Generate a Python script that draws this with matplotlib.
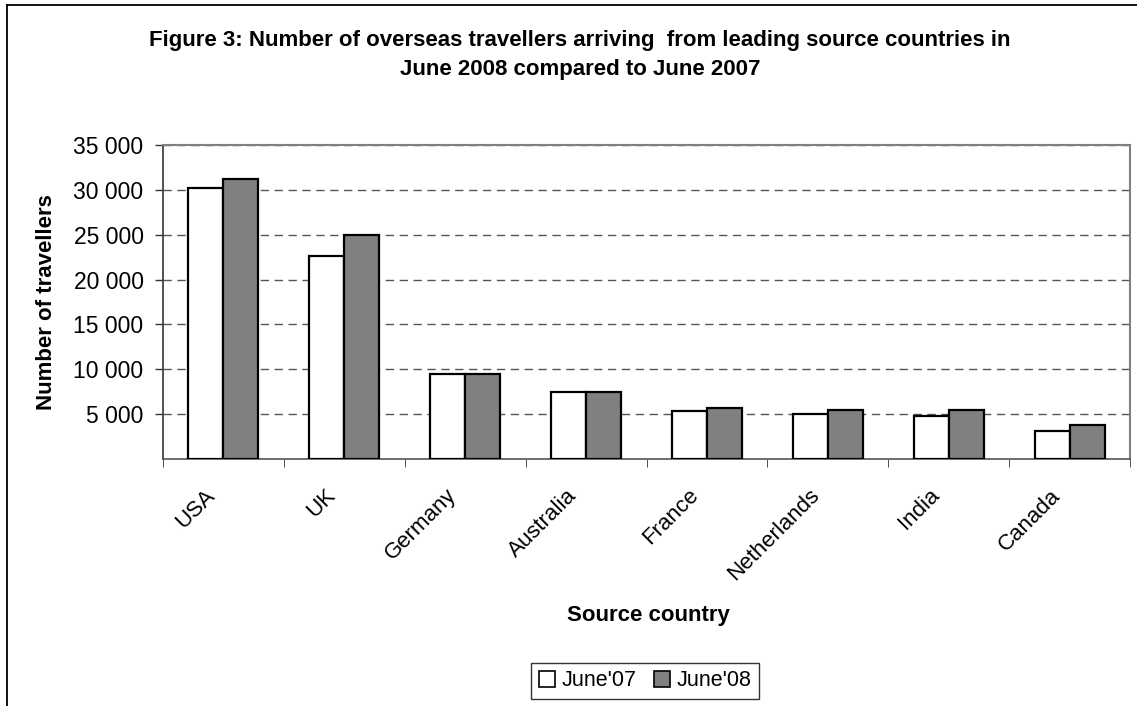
import numpy as np
import matplotlib.pyplot as plt
import matplotlib.transforms as mtrans
from matplotlib.patches import Patch
from matplotlib.lines import Line2D

# travellers by source country
countries = ['USA', 'UK', 'Germany', 'Australia', 'France', 'Netherlands', 'India', 'Canada']
june07 = [30200, 22600, 9450, 7500, 5400, 5050, 4800, 3150]
june08 = [31250, 24950, 9450, 7500, 5700, 5450, 5450, 3800]
yticks = [5000, 10000, 15000, 20000, 25000, 30000, 35000]
ytick_labels = ['5 000', '10 000', '15 000', '20 000', '25 000', '30 000', '35 000']

plt.rcParams['font.family'] = ['Liberation Sans', 'DejaVu Sans']

W, H = 1137, 706
fig = plt.figure(figsize=(W / 100, H / 100), dpi=100)
ax = fig.add_axes([163 / W, 1 - 459 / H, (1130 - 163) / W, (459 - 145) / H])

x = np.arange(len(countries))
w = 0.29
ax.bar(x - w / 2, june07, w, color='white', edgecolor='black', linewidth=1.6, zorder=3, label="June'07")
ax.bar(x + w / 2, june08, w, color='#808080', edgecolor='black', linewidth=1.6, zorder=3, label="June'08")

ax.set_xlim(-0.5, len(countries) - 0.5)
ax.set_ylim(0, 35000)
ax.set_yticks(yticks)
ax.set_yticklabels(ytick_labels, fontsize=16.5)
ax.yaxis.grid(True, linestyle=(0, (6, 4)), color='#555555', linewidth=1, zorder=0)

# ticks between groups, labels at group centres
ax.set_xticks(np.arange(-0.5, len(countries)), minor=True)
ax.set_xticks(x)
ax.set_xticklabels(countries, rotation=45, ha='right', va='center', rotation_mode='anchor', fontsize=16)
ax.tick_params(axis='x', which='major', length=0, pad=24)
ax.tick_params(axis='x', which='minor', length=6, direction='out', color='#333333')
ax.tick_params(axis='y', length=6, width=1, direction='out', color='#333333', pad=8)
shift = mtrans.ScaledTranslation(-12 / 100, 0, fig.dpi_scale_trans)
for lab in ax.get_xticklabels():
    lab.set_transform(lab.get_transform() + shift)

for s in ['top', 'right']:
    ax.spines[s].set_color('#808080')
    ax.spines[s].set_linewidth(1.5)
ax.spines['left'].set_color('#333333')
ax.spines['bottom'].set_color('#555555')
ax.spines['left'].set_linewidth(1.2)
ax.spines['bottom'].set_linewidth(1.2)

ax.set_ylabel('Number of travellers', fontsize=16, fontweight='bold', va='center')
ax.yaxis.set_label_coords(-(163 - 47) / (1130 - 163), 0.5)
ax.set_xlabel('Source country', fontsize=16, fontweight='bold', va='center')
ax.xaxis.set_label_coords((648 - 163) / (1130 - 163), -(615 - 459) / (459 - 145))

fig.text(580 / W, 1 - 55 / H,
         'Figure 3: Number of overseas travellers arriving  from leading source countries in\n'
         'June 2008 compared to June 2007',
         ha='center', va='center', fontsize=16, fontweight='bold', linespacing=1.45)

handles = [Patch(facecolor='white', edgecolor='black', linewidth=1.2, label="June'07"),
           Patch(facecolor='#808080', edgecolor='black', linewidth=1.2, label="June'08")]
fig.legend(handles=handles, loc='center', bbox_to_anchor=(645 / W, 1 - 681 / H), ncol=2,
           fontsize=15.5, frameon=True, fancybox=False, edgecolor='black', handlelength=0.75,
           handleheight=0.75, handletextpad=0.3, columnspacing=0.8, borderpad=0.35)

# outer chart frame (left and top edges visible)
fig.add_artist(Line2D([7 / W, 7 / W], [0, 1 - 5 / H], color='black', linewidth=1.3))
fig.add_artist(Line2D([7 / W, 1], [1 - 5 / H, 1 - 5 / H], color='black', linewidth=1.3))

fig.savefig('out.png', dpi=100)
